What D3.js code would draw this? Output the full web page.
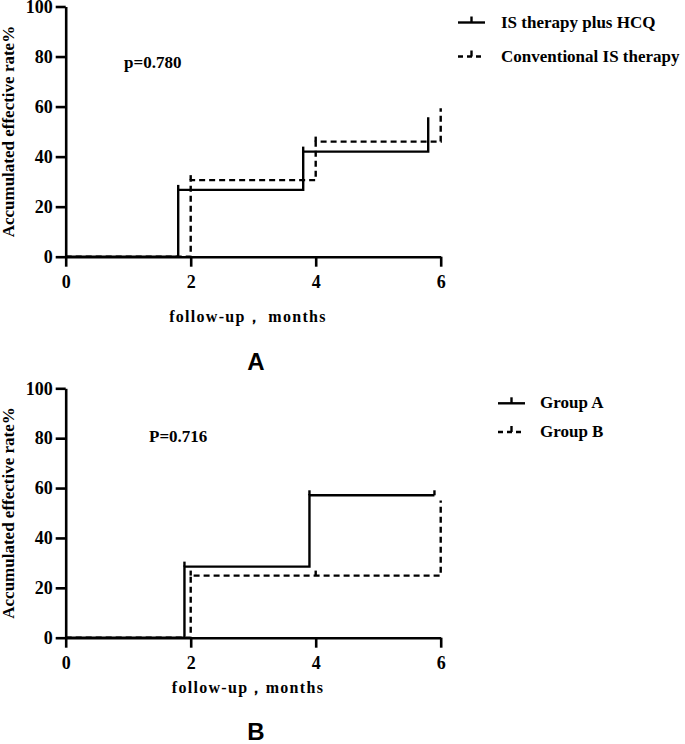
<!DOCTYPE html>
<html><head><meta charset="utf-8">
<script src="https://cdn.jsdelivr.net/npm/d3@7"></script>
<style>
body{margin:0;background:#fff;}
svg{display:block;}
text{font-family:"Liberation Serif","Times New Roman",serif;font-weight:bold;fill:#000;}
</style></head>
<body><div id="chart"></div>
<script>
// ---- data ----
const xTicks = [0, 2, 4, 6];
const yTicks = [0, 20, 40, 60, 80, 100];
const seriesNamesA = ["IS therapy plus HCQ", "Conventional IS therapy"];
const seriesNamesB = ["Group A", "Group B"];
const pTextA = "p=0.780";
const pTextB = "P=0.716";
const panelLabels = ["A", "B"];
const xTitleA = "follow-up，  months";
const xTitleB = "follow-up，months";
const yTitle = "Accumulated effective rate%";

// step curves: event times and cumulative values after each event
const aSolidTimes = [1.8, 3.8, 5.8];
const aSolidValues = [26.7, 42.0, 55.7];
const aSolidEnd = 5.8;
const aSolidCensorTimes = [1.8, 3.8];

const aDashTimes = [2.0, 4.0, 6.0];
const aDashValues = [30.6, 46.0, 59.3];
const aDashEnd = 6.0;
const aDashCensorTimes = [2.0, 4.0];

const bSolidTimes = [1.9, 3.9];
const bSolidValues = [28.5, 57.1];
const bSolidEnd = 5.9;
const bSolidCensorTimes = [1.9, 3.9, 5.9];

const bDashTimes = [2.0, 6.0];
const bDashValues = [24.9, 55.0];
const bDashEnd = 6.0;
const bDashCensorTimes = [2.0, 4.0];

// ---- drawing ----
const W = 685, H = 744;
const serif = '"Liberation Serif","Times New Roman",serif';
const svg = d3.select("#chart").append("svg").attr("width", W).attr("height", H);

function stepPoints(times, values, end) {
  const pts = [[0, 0]];
  let v = 0;
  times.forEach((t, i) => { pts.push([t, v]); v = values[i]; pts.push([t, v]); });
  if (end > times[times.length - 1]) pts.push([end, v]);
  return pts;
}
function valueAt(times, values, t) {
  let v = 0;
  times.forEach((tt, i) => { if (tt <= t + 1e-9) v = values[i]; });
  return v;
}

function panel(cfg) {
  const x = d3.scaleLinear().domain([0, 6]).range([65.7, 440.7]);
  const y = d3.scaleLinear().domain([0, 100]).range([cfg.y0, cfg.y100]);
  const g = svg.append("g");

  const ya = g.append("g").attr("transform", "translate(65.7,0)")
    .call(d3.axisLeft(y).tickValues(yTicks).tickFormat(d3.format("d")).tickSize(10).tickSizeOuter(0).tickPadding(3));
  const xa = g.append("g").attr("transform", `translate(0,${cfg.y0})`)
    .call(d3.axisBottom(x).tickValues(xTicks).tickFormat(d3.format("d")).tickSize(10).tickSizeOuter(0).tickPadding(9));
  [ya, xa].forEach(a => {
    a.selectAll("path.domain").attr("stroke", "#000").attr("stroke-width", 2.6);
    a.selectAll(".tick line").attr("stroke", "#000").attr("stroke-width", 2.6);
    a.selectAll(".tick text").style("font-size", "18px").style("font-family", serif).style("font-weight", "bold");
  });

  const line = d3.line().x(d => x(d[0])).y(d => y(d[1]));
  cfg.series.forEach(s => {
    g.append("path").datum(stepPoints(s.times, s.values, s.end))
      .attr("d", line).attr("fill", "none").attr("stroke", "#000")
      .attr("stroke-width", 2.4).attr("stroke-dasharray", s.dash ? "6,4" : null);
    g.selectAll(null).data(s.censor).enter().append("line")
      .attr("x1", d => x(d)).attr("x2", d => x(d))
      .attr("y1", d => y(valueAt(s.times, s.values, d)))
      .attr("y2", d => y(valueAt(s.times, s.values, d)) - 5)
      .attr("stroke", "#000").attr("stroke-width", 2.4);
  });

  // p-value
  g.append("text").attr("x", cfg.px).attr("y", cfg.py).attr("font-size", 17).text(cfg.p);

  // y title
  g.append("text").attr("transform", `translate(14,${(cfg.y0 + cfg.y100) / 2}) rotate(-90)`)
    .attr("text-anchor", "middle").attr("font-size", 17).text(yTitle);

  // x title
  g.append("text").attr("x", 248).attr("y", cfg.xtY).attr("text-anchor", "middle")
    .attr("font-size", 16).attr("letter-spacing", 1.3).text(cfg.xTitle);

  // panel label
  g.append("text").attr("x", 256).attr("y", cfg.labY).attr("text-anchor", "middle")
    .attr("font-size", 24).style("font-family", '"Liberation Sans",Arial,sans-serif')
    .text(cfg.label);

  // legend
  cfg.series.forEach((s, i) => {
    const ly = cfg.legY[i];
    const lg = g.append("g");
    lg.append("line").attr("x1", cfg.legX).attr("x2", cfg.legX + 27).attr("y1", ly).attr("y2", ly)
      .attr("stroke", "#000").attr("stroke-width", 2.4).attr("stroke-dasharray", s.dash ? "5,4" : null);
    lg.append("line").attr("x1", cfg.legX + 13.5).attr("x2", cfg.legX + 13.5).attr("y1", ly).attr("y2", ly - 6)
      .attr("stroke", "#000").attr("stroke-width", 2.4);
    lg.append("text").attr("x", cfg.legTX).attr("y", ly + 5).attr("font-size", 17).text(s.name);
  });
}

panel({
  y0: 256.7, y100: 6.5,
  series: [
    {name: seriesNamesA[0], times: aSolidTimes, values: aSolidValues, end: aSolidEnd, censor: aSolidCensorTimes, dash: false},
    {name: seriesNamesA[1], times: aDashTimes, values: aDashValues, end: aDashEnd, censor: aDashCensorTimes, dash: true}
  ],
  p: pTextA, px: 124, py: 68,
  xTitle: xTitleA, xtY: 322, label: panelLabels[0], labY: 370,
  legX: 458, legTX: 501, legY: [22.5, 56.5]
});
panel({
  y0: 637.7, y100: 388.3,
  series: [
    {name: seriesNamesB[0], times: bSolidTimes, values: bSolidValues, end: bSolidEnd, censor: bSolidCensorTimes, dash: false},
    {name: seriesNamesB[1], times: bDashTimes, values: bDashValues, end: bDashEnd, censor: bDashCensorTimes, dash: true}
  ],
  p: pTextB, px: 149, py: 442,
  xTitle: xTitleB, xtY: 693, label: panelLabels[1], labY: 740,
  legX: 498, legTX: 540, legY: [403.3, 432]
});
</script></body></html>
